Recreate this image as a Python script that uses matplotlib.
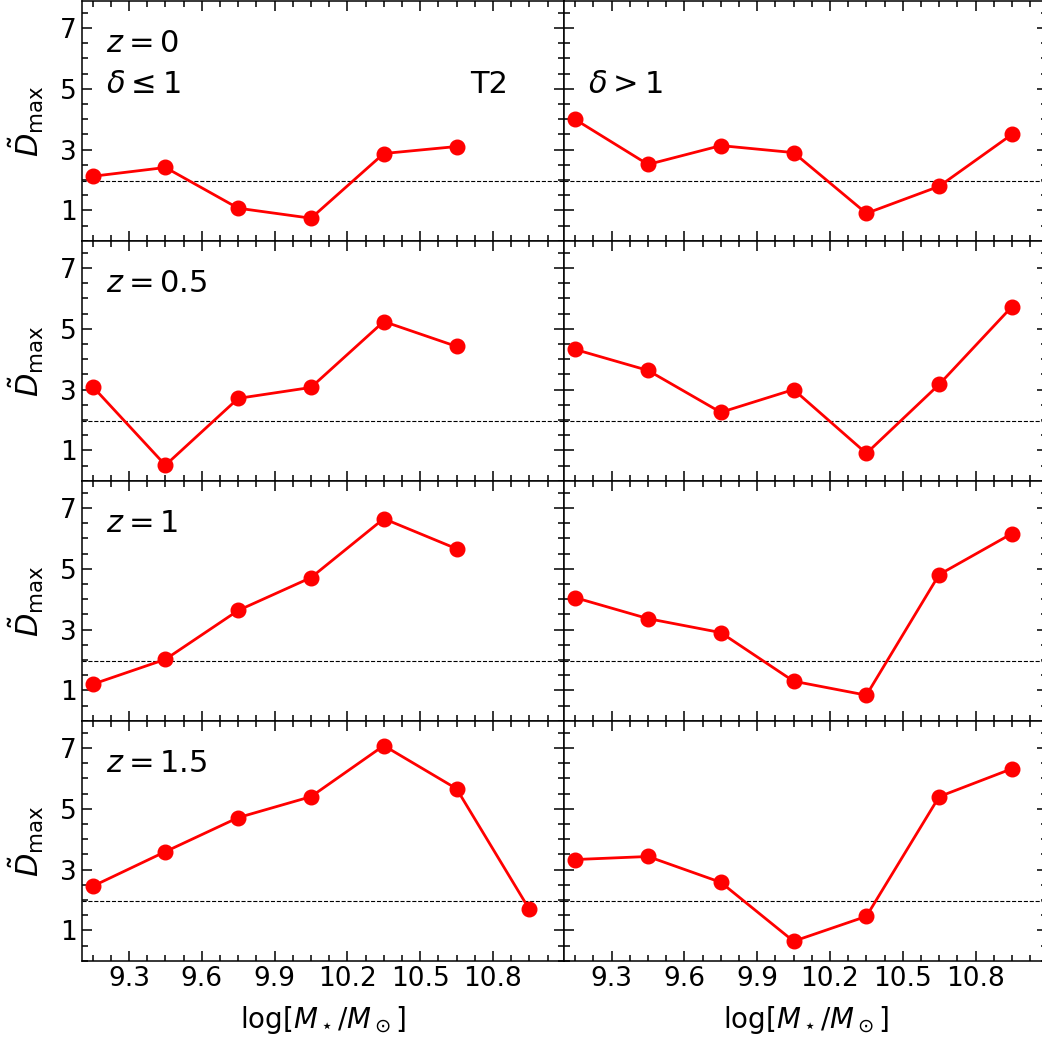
import matplotlib
matplotlib.use("Agg")
import matplotlib.pyplot as plt
from matplotlib.ticker import MultipleLocator

mass = [9.15, 9.45, 9.75, 10.05, 10.35, 10.65, 10.95]
redshift_labels = [r"$z = 0$", r"$z = 0.5$", r"$z = 1$", r"$z = 1.5$"]

low_z0 = [2.12, 2.41, 1.07, 0.74, 2.87, 3.10]
low_z05 = [3.10, 0.51, 2.71, 3.07, 5.24, 4.42]
low_z1 = [1.20, 2.02, 3.63, 4.71, 6.65, 5.66]
low_z15 = [2.45, 3.59, 4.71, 5.40, 7.08, 5.66, 1.69]

high_z0 = [3.99, 2.51, 3.13, 2.90, 0.90, 1.79, 3.50]
high_z05 = [4.32, 3.63, 2.25, 3.00, 0.90, 3.17, 5.73]
high_z1 = [4.05, 3.36, 2.90, 1.30, 0.84, 4.81, 6.16]
high_z15 = [3.33, 3.43, 2.58, 0.64, 1.46, 5.40, 6.32]

threshold = 1.96
xticks = [9.3, 9.6, 9.9, 10.2, 10.5, 10.8]
yticks = [1, 3, 5, 7]

low = [low_z0, low_z05, low_z1, low_z15]
high = [high_z0, high_z05, high_z1, high_z15]

W = 1042.0
fig = plt.figure(figsize=(10.42, 10.42), dpi=100)
left_px, mid_px, right_px = 81.7, 564.3, 1046.9
top_px, bot_px = 0.7, 960.7
row_h = (bot_px - top_px) / 4

axes = [[None, None] for _ in range(4)]
for r in range(4):
    for c in range(2):
        x0 = (left_px if c == 0 else mid_px) / W
        w = (mid_px - left_px) / W
        y0 = 1 - (top_px + (r + 1) * row_h) / W
        h = row_h / W
        kw = {}
        if r > 0 or c > 0:
            kw["sharex"] = axes[0][0]
            kw["sharey"] = axes[0][0]
        axes[r][c] = fig.add_axes([x0, y0, w, h], **kw)

for r in range(4):
    for c in range(2):
        ax = axes[r][c]
        vals = low[r] if c == 0 else high[r]
        ax.plot(mass[:len(vals)], vals, color="red", lw=2, marker="o",
                ms=10.5, zorder=3)
        ax.axhline(threshold, color="black", ls="--", lw=0.8, zorder=1)
        ax.set_xlim(9.105, 11.094)
        ax.set_ylim(0, 7.9)
        ax.set_xticks(xticks)
        ax.set_yticks(yticks)
        ax.xaxis.set_minor_locator(MultipleLocator(0.075))
        ax.yaxis.set_minor_locator(MultipleLocator(0.5))
        ax.tick_params(which="both", direction="in", top=True, right=True,
                       labelsize=19, width=1.1)
        ax.tick_params(which="major", length=7)
        ax.tick_params(which="minor", length=4)
        for s in ax.spines.values():
            s.set_linewidth(1.1)
        if c == 0:
            ax.set_ylabel(r"$\tilde{D}_{\rm max}$", fontsize=22, labelpad=10)
            ax.text(0.05, 0.82, redshift_labels[r], transform=ax.transAxes,
                    fontsize=22, va="center", ha="left")
        else:
            ax.tick_params(labelleft=False)
        if r == 3:
            ax.set_xlabel(r"$\log[M_\star/M_\odot]$", fontsize=20, labelpad=9)
        else:
            ax.tick_params(labelbottom=False)

axes[0][0].text(0.05, 0.65, r"$\delta \leq 1$", transform=axes[0][0].transAxes,
                fontsize=22, va="center", ha="left")
axes[0][0].text(0.805, 0.65, "T2", transform=axes[0][0].transAxes,
                fontsize=22, va="center", ha="left")
axes[0][1].text(0.05, 0.65, r"$\delta > 1$", transform=axes[0][1].transAxes,
                fontsize=22, va="center", ha="left")

fig.savefig("out.png", dpi=100)
